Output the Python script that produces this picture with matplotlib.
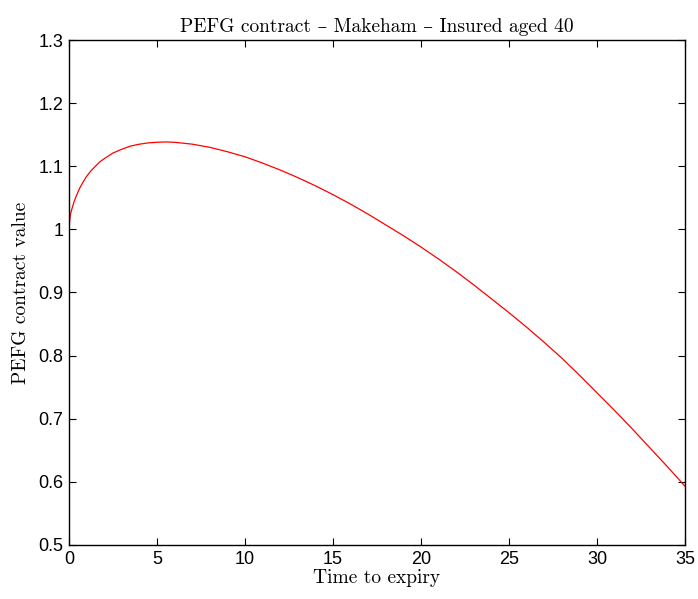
import matplotlib
matplotlib.use("Agg")
import matplotlib.pyplot as plt
import numpy as np

# values
t = [0, 0.05, 0.1, 0.2, 0.3, 0.4, 0.6, 0.8, 1.0, 1.25, 1.5, 1.75, 2, 2.5, 3, 3.5, 4, 4.5,
     5, 5.5, 6, 7, 8, 9, 10, 11, 12, 13, 14, 15, 16, 17, 18, 19, 20, 21, 22, 23,
     24, 25, 26, 27, 28, 29, 30, 31, 32, 33, 34, 35]
value = [1.000, 1.018, 1.026, 1.036, 1.045, 1.052, 1.065, 1.075, 1.084, 1.093, 1.100,
         1.107, 1.112, 1.121, 1.127, 1.132, 1.135, 1.137,
         1.138, 1.1385, 1.138, 1.135, 1.130, 1.123, 1.115, 1.105, 1.094, 1.082, 1.069,
         1.055, 1.040, 1.024, 1.007, 0.990, 0.972, 0.953, 0.933, 0.912,
         0.890, 0.868, 0.845, 0.821, 0.796, 0.769, 0.741, 0.713, 0.684, 0.654, 0.624, 0.593]

xticks = [0, 5, 10, 15, 20, 25, 30, 35]
yticks = [0.5, 0.6, 0.7, 0.8, 0.9, 1.0, 1.1, 1.2, 1.3]
ytick_labels = ['0.5', '0.6', '0.7', '0.8', '0.9', '1', '1.1', '1.2', '1.3']

serif = ['cmr10', 'DejaVu Serif']

fig = plt.figure(figsize=(6.98, 5.99), dpi=100)
ax = fig.add_axes([0.0989, 0.0902, 0.8825, 0.843])
ax.plot(t, value, color='red', linewidth=0.9)

ax.set_xlim(0, 35)
ax.set_ylim(0.5, 1.3)
ax.set_xticks(xticks)
ax.set_xticklabels([str(x) for x in xticks])
ax.set_yticks(yticks)
ax.set_yticklabels(ytick_labels)
ax.tick_params(direction='in', top=True, right=True, length=5, width=0.8,
               labelsize=13, pad=4)
for lab in ax.get_xticklabels() + ax.get_yticklabels():
    lab.set_family('Liberation Sans')
for s in ax.spines.values():
    s.set_linewidth(1.0)

ax.set_title('PEFG contract \u2013 Makeham \u2013 Insured aged 40', family=serif,
             fontsize=14, pad=6)
ax.set_xlabel('Time to expiry', family=serif, fontsize=14, labelpad=1)
ax.set_ylabel('PEFG contract value', family=serif, fontsize=14, labelpad=6)

fig.savefig('out.png', dpi=100)
